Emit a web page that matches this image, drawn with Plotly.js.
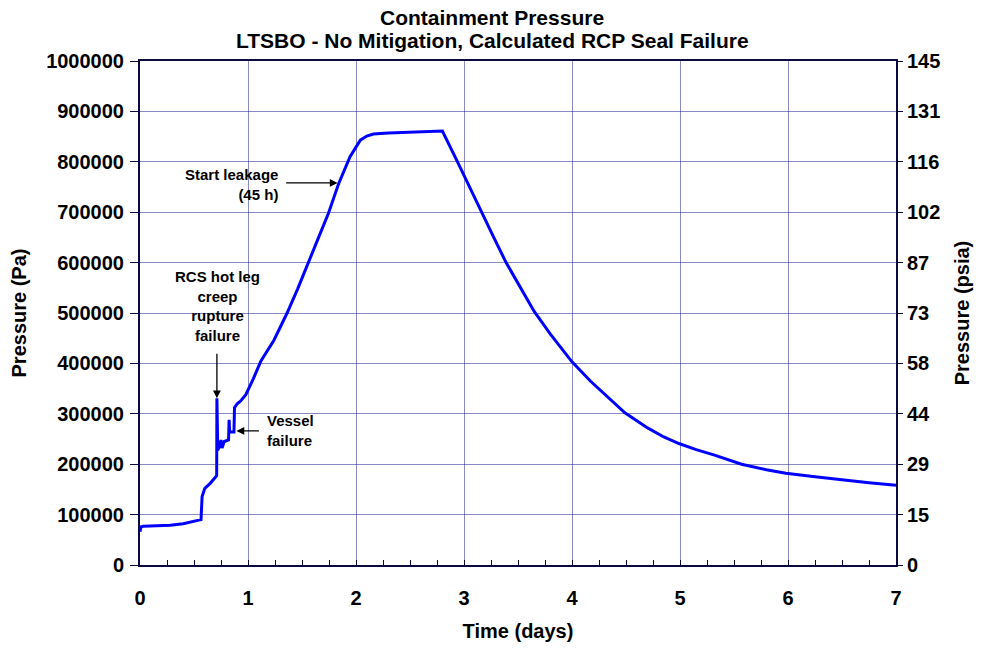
<!DOCTYPE html>
<html>
<head>
<meta charset="utf-8">
<script src="https://cdn.plot.ly/plotly-3.0.1.min.js"></script>
<style>html,body{margin:0;padding:0;background:#fff;}#chart{width:984px;height:648px;}</style>
</head>
<body>
<div id="chart"></div>
<script>
// Time (days)
const timeDays = [0, 0.01, 0.03, 0.15, 0.28, 0.40, 0.50, 0.565, 0.575, 0.60, 0.65, 0.71, 0.712, 0.72, 0.735, 0.75, 0.76, 0.78, 0.82, 0.825, 0.83, 0.87, 0.875, 0.90, 0.93, 0.98, 1.05, 1.12, 1.24, 1.36, 1.46, 1.56, 1.65, 1.745, 1.84, 1.945, 2.0, 2.04, 2.1, 2.16, 2.3, 2.47, 2.65, 2.80, 2.94, 3.05, 3.16, 3.28, 3.39, 3.5, 3.65, 3.8, 3.9, 4.0, 4.17, 4.34, 4.49, 4.7, 4.85, 4.99, 5.15, 5.32, 5.57, 5.8, 5.98, 6.25, 6.49, 6.75, 7.0];
// Containment pressure (Pa)
const pressurePa = [66000, 76000, 77000, 78000, 79000, 82000, 86000, 90000, 136000, 152000, 162000, 177000, 331000, 228000, 234000, 248000, 232000, 245000, 248000, 288000, 264000, 264000, 312000, 320000, 325000, 338000, 370000, 405000, 446000, 499000, 548000, 599000, 648000, 698000, 757000, 810000, 830000, 843000, 851000, 855000, 857000, 858000, 859000, 861000, 800000, 750000, 700000, 648000, 600000, 560000, 503000, 458000, 430000, 403000, 365000, 331000, 302000, 272000, 254000, 241000, 229000, 218000, 200000, 189000, 182000, 175000, 169000, 163000, 158000];
// Right axis tick labels (psia)
const psiaTickVals = [0, 14.5, 29, 43.5, 58, 72.5, 87, 101.5, 116, 130.5, 145];
const psiaTickText = ['0', '15', '29', '44', '58', '73', '87', '102', '116', '131', '145'];
const PA_TO_PSIA = 145 / 1000000;
const titleLines = ['Containment Pressure', 'LTSBO - No Mitigation, Calculated RCP Seal Failure'];

const F = 'Liberation Sans, Arial, sans-serif';
const bold = (size) => ({family: F, size: size, color: '#000', weight: 700});

const traces = [
  {x: timeDays, y: pressurePa, type: 'scatter', mode: 'lines',
   line: {color: '#0000FF', width: 3, shape: 'linear'}, hoverinfo: 'skip', showlegend: false},
  {x: timeDays, y: pressurePa.map(v => v * PA_TO_PSIA), type: 'scatter', mode: 'lines',
   yaxis: 'y2', line: {color: 'rgba(0,0,0,0)', width: 0}, hoverinfo: 'skip', showlegend: false}
];

const gridC = 'rgba(40,40,150,0.55)';
const axC = '#0A0A40';

const layout = {
  width: 984, height: 648,
  margin: {l: 140, r: 88, t: 61, b: 83},
  paper_bgcolor: '#fff', plot_bgcolor: '#fff',
  xaxis: {range: [0, 7], dtick: 1, tick0: 0, showgrid: true, gridcolor: gridC, gridwidth: 1,
          showline: true, linecolor: axC, linewidth: 2, mirror: true,
          ticks: 'inside', ticklen: 5, tickcolor: axC, ticklabelstandoff: 14,
          minor: {dtick: 0.25, ticks: 'inside', ticklen: 5, tickcolor: axC, showgrid: false},
          tickfont: bold(20), zeroline: false,
          title: {text: 'Time (days)', font: bold(20), standoff: 16}},
  yaxis: {range: [0, 1000000], dtick: 100000, tick0: 0, tickformat: 'd',
          showgrid: true, gridcolor: gridC, gridwidth: 1,
          showline: true, linecolor: axC, linewidth: 2, ticklabelstandoff: 2,
          ticks: 'outside', ticklen: 8, tickcolor: axC, zeroline: false,
          tickfont: bold(20),
          title: {text: 'Pressure (Pa)', font: bold(20), standoff: 14}},
  yaxis2: {overlaying: 'y', side: 'right', range: [0, 145],
           tickmode: 'array', tickvals: psiaTickVals, ticktext: psiaTickText,
           showgrid: false, zeroline: false, showline: true, linecolor: axC, linewidth: 2,
           ticks: 'outside', ticklen: 5, tickcolor: axC, tickfont: bold(20),
           title: {text: 'Pressure (psia)', font: bold(20), standoff: 16}},
  annotations: [
    {x: (492 - 140) / 756, y: (565 - 17) / 504, xref: 'paper', yref: 'paper', text: titleLines[0],
     showarrow: false, font: bold(21), xanchor: 'center', yanchor: 'middle'},
    {x: (492 - 140) / 756, y: (565 - 41) / 504, xref: 'paper', yref: 'paper', text: titleLines[1],
     showarrow: false, font: bold(21), xanchor: 'center', yanchor: 'middle'},
    {x: 0.712, y: 331000, xref: 'x', yref: 'y', text: '', showarrow: true,
     ax: 0, ay: -46, arrowhead: 2, arrowsize: 1.2, arrowwidth: 1.3, arrowcolor: '#000', standoff: 0},
    {x: 0.717, y: 514000, xref: 'x', yref: 'y', text: 'RCS hot leg<br>creep<br>rupture<br>failure',
     showarrow: false, font: bold(15), align: 'center', xanchor: 'center', yanchor: 'middle'},
    {x: 0.893, y: 266000, xref: 'x', yref: 'y', text: '', showarrow: true,
     ax: 24, ay: 0, arrowhead: 2, arrowsize: 1.2, arrowwidth: 1.3, arrowcolor: '#000', standoff: 0},
    {x: 1.16, y: 266000, xref: 'x', yref: 'y', text: 'Vessel<br>failure',
     showarrow: false, font: bold(15), align: 'left', xanchor: 'left', yanchor: 'middle'},
    {x: 1.83, y: 758000, xref: 'x', yref: 'y', text: '', showarrow: true,
     ax: -53, ay: 0, arrowhead: 2, arrowsize: 1.2, arrowwidth: 1.3, arrowcolor: '#000', standoff: 0},
    {x: 1.30, y: 754000, xref: 'x', yref: 'y', text: 'Start leakage<br>(45 h)',
     showarrow: false, font: bold(15), align: 'right', xanchor: 'right', yanchor: 'middle'}
  ]
};

Plotly.newPlot('chart', traces, layout, {displayModeBar: false, staticPlot: true});
</script>
</body>
</html>
